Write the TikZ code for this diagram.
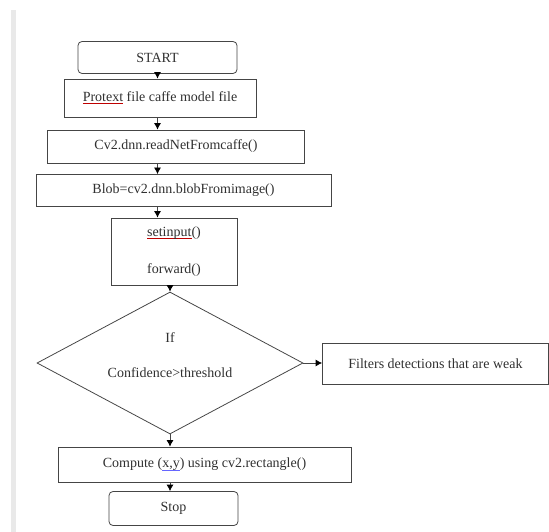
\documentclass[tikz,border=0pt]{standalone}
\usepackage{fontspec}
\setmainfont{Liberation Serif}
\usepackage{tikz}
\usetikzlibrary{calc,shapes.geometric,arrows.meta}
\usepackage{xcolor}

\definecolor{linegray}{HTML}{454545}
\definecolor{txtgray}{HTML}{303030}
\definecolor{bargray}{HTML}{E9E9E9}

% Subrayados del corrector ortografico
\newsavebox{\ulbox}
\newcommand{\redwave}[1]{\sbox{\ulbox}{#1}\rlap{\textcolor{red!75!black}{\rule[-2.5pt]{\wd\ulbox}{0.7pt}}}\usebox{\ulbox}}
\newcommand{\blueline}[1]{\sbox{\ulbox}{#1}\rlap{\textcolor{blue!60}{\rule[-2.5pt]{\wd\ulbox}{0.7pt}}}\usebox{\ulbox}}

\tikzset{
  box/.style={draw=linegray,line width=0.8pt,text=txtgray,inner sep=0pt,
    font=\fontsize{14}{16.5}\selectfont},
  term/.style={box,rounded corners=4pt},
  decision/.style={box,diamond,aspect=2},
  flow/.style={draw=linegray,line width=0.8pt,-{Latex[length=6.5pt,width=7pt,color=black]}}
}

\begin{document}
\begin{tikzpicture}[x=1pt,y=-1pt]

  % Marco de la pagina
  \useasboundingbox (0,0) rectangle (549,532);
  \fill[bargray] (11,10) rectangle (16,532);

  % Cajas del diagrama
  \node[term,minimum width=159,minimum height=32] (start) at (157.5,57.5) {START};
  \node[box,minimum width=192,minimum height=38] (proto) at (160,98) {\redwave{Protext} file caffe model file};
  \node[box,minimum width=257,minimum height=33] (readnet) at (176,146.5) {Cv2.dnn.readNetFromcaffe()};
  \node[box,minimum width=295,minimum height=32] (blob) at (183.5,190.5) {Blob=cv2.dnn.blobFromimage()};
  \node[box,minimum width=126,minimum height=67,align=center] (fwd) at (174,251.5) {\redwave{setinput}()\\[20pt]forward()};

  % Decision
  \node[decision,minimum width=266,minimum height=142] (cond) at (170,363) {};
  \node[text=txtgray,font=\fontsize{14}{16.5}\selectfont] (iftxt) at ($(cond)+(0,-25)$) {If};
  \node[text=txtgray,font=\fontsize{14}{16.5}\selectfont] (condtxt) at ($(cond)+(0,10)$) {Confidence>threshold};
  \node[box,minimum width=226,minimum height=41] (filt) at (435.5,364) {Filters detections that are weak};

  \node[box,minimum width=293,minimum height=35] (comp) at (204.5,464.5) {Compute (\blueline{x,y}) using cv2.rectangle()};
  \node[term,minimum width=129,minimum height=34] (stop) at (173.5,508.5) {Stop};

  % Flechas
  \draw[flow] (start.south) -- (start.south |- proto.north);
  \draw[flow] (proto.south -| start.south) -- (readnet.north -| start.south);
  \draw[flow] (readnet.south -| start.south) -- (blob.north -| start.south);
  \draw[flow] (blob.south -| start.south) -- (fwd.north -| start.south);
  \draw[flow] (fwd.south -| cond.north) -- (cond.north);
  \draw[flow] (cond.east) -- (cond.east -| filt.west);
  \draw[flow] (cond.south) -- (cond.south |- comp.north);
  \draw[flow] (comp.south -| cond.south) -- (stop.north -| cond.south);

\end{tikzpicture}
\end{document}
